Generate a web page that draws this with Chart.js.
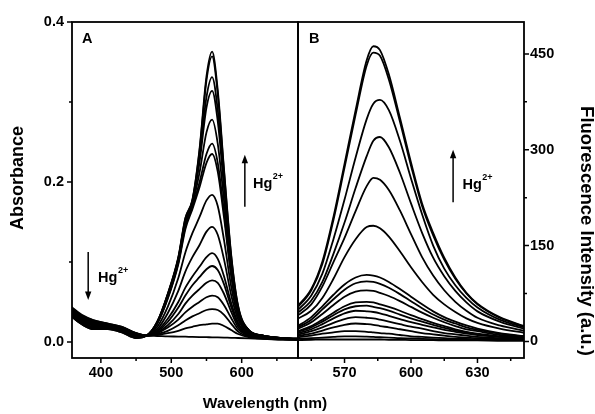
<!DOCTYPE html>
<html>
<head>
<meta charset="utf-8">
<script src="https://cdn.jsdelivr.net/npm/chart.js"></script>
<style>
  html, body { margin: 0; padding: 0; background: #fff; }
  #wrap { position: relative; width: 595px; height: 414px; }
  #wrap canvas { position: absolute; left: 0; top: 0; }
</style>
</head>
<body>
<div id="wrap">
  <canvas id="absChart" width="595" height="414"></canvas>
  <canvas id="fluoChart" width="595" height="414"></canvas>
</div>
<script>
// ==================== DATA ====================
// Panel A - UV-vis absorbance, one array per Hg2+ addition
const absWavelengths = [358, 375, 390, 410, 430, 450, 465, 480, 495, 510, 520, 530, 540, 550, 558, 566, 575, 585, 595, 610, 630, 655, 682];

const abs0  = [0.032, 0.021, 0.016, 0.016, 0.012, 0.005, 0.008, 0.025, 0.060, 0.106, 0.155, 0.178, 0.240, 0.332, 0.363, 0.315, 0.215, 0.110, 0.045, 0.015, 0.008, 0.005, 0.004];
const abs1  = [0.032, 0.021, 0.016, 0.016, 0.012, 0.005, 0.008, 0.025, 0.060, 0.105, 0.154, 0.177, 0.238, 0.327, 0.357, 0.310, 0.212, 0.108, 0.044, 0.015, 0.008, 0.005, 0.004];
const abs2  = [0.033, 0.022, 0.017, 0.017, 0.013, 0.006, 0.008, 0.025, 0.059, 0.104, 0.152, 0.176, 0.230, 0.306, 0.331, 0.290, 0.200, 0.103, 0.042, 0.015, 0.008, 0.005, 0.004];
const abs3  = [0.033, 0.022, 0.017, 0.017, 0.013, 0.006, 0.008, 0.024, 0.058, 0.103, 0.150, 0.175, 0.224, 0.293, 0.314, 0.276, 0.192, 0.099, 0.041, 0.015, 0.008, 0.005, 0.004];
const abs4  = [0.034, 0.023, 0.018, 0.018, 0.014, 0.006, 0.008, 0.024, 0.057, 0.101, 0.147, 0.172, 0.211, 0.262, 0.278, 0.248, 0.176, 0.092, 0.039, 0.014, 0.008, 0.005, 0.004];
const abs5  = [0.035, 0.024, 0.018, 0.018, 0.014, 0.007, 0.008, 0.023, 0.055, 0.099, 0.144, 0.169, 0.199, 0.235, 0.248, 0.224, 0.162, 0.086, 0.037, 0.014, 0.008, 0.005, 0.003];
const abs6  = [0.035, 0.024, 0.019, 0.019, 0.015, 0.007, 0.008, 0.023, 0.054, 0.097, 0.141, 0.166, 0.193, 0.224, 0.235, 0.213, 0.155, 0.083, 0.036, 0.013, 0.008, 0.005, 0.003];
const abs7  = [0.036, 0.025, 0.020, 0.019, 0.015, 0.008, 0.008, 0.019, 0.044, 0.080, 0.112, 0.136, 0.156, 0.177, 0.184, 0.170, 0.127, 0.070, 0.032, 0.012, 0.007, 0.004, 0.003];
const abs8  = [0.037, 0.026, 0.021, 0.020, 0.016, 0.008, 0.008, 0.016, 0.036, 0.064, 0.088, 0.106, 0.121, 0.138, 0.144, 0.134, 0.103, 0.059, 0.028, 0.011, 0.007, 0.004, 0.003];
const abs9  = [0.038, 0.027, 0.022, 0.020, 0.016, 0.009, 0.008, 0.014, 0.029, 0.050, 0.068, 0.082, 0.094, 0.106, 0.111, 0.104, 0.082, 0.049, 0.024, 0.010, 0.006, 0.004, 0.003];
const abs10 = [0.039, 0.028, 0.023, 0.021, 0.017, 0.009, 0.008, 0.013, 0.025, 0.043, 0.058, 0.071, 0.081, 0.091, 0.095, 0.090, 0.072, 0.044, 0.022, 0.009, 0.006, 0.004, 0.003];
const abs11 = [0.040, 0.029, 0.024, 0.021, 0.017, 0.010, 0.008, 0.012, 0.021, 0.035, 0.048, 0.058, 0.066, 0.074, 0.077, 0.074, 0.060, 0.038, 0.019, 0.009, 0.006, 0.004, 0.003];
const abs12 = [0.041, 0.030, 0.025, 0.022, 0.018, 0.010, 0.008, 0.011, 0.018, 0.028, 0.037, 0.044, 0.050, 0.056, 0.058, 0.056, 0.046, 0.030, 0.016, 0.008, 0.005, 0.004, 0.003];
const abs13 = [0.042, 0.031, 0.026, 0.022, 0.018, 0.011, 0.008, 0.010, 0.014, 0.021, 0.027, 0.032, 0.036, 0.040, 0.041, 0.040, 0.034, 0.023, 0.013, 0.007, 0.005, 0.003, 0.003];
const abs14 = [0.043, 0.032, 0.027, 0.023, 0.019, 0.011, 0.008, 0.009, 0.011, 0.014, 0.017, 0.019, 0.021, 0.022, 0.023, 0.023, 0.020, 0.015, 0.010, 0.006, 0.004, 0.003, 0.003];
const abs15 = [0.044, 0.033, 0.027, 0.023, 0.019, 0.011, 0.008, 0.0075, 0.007, 0.0068, 0.0066, 0.0064, 0.0062, 0.006, 0.0058, 0.0057, 0.0055, 0.0052, 0.005, 0.0046, 0.004, 0.0035, 0.003];

const absCurves = [abs0, abs1, abs2, abs3, abs4, abs5, abs6, abs7, abs8, abs9, abs10, abs11, abs12, abs13, abs14, abs15];

// Panel B - fluorescence emission
const fluoWavelengths = [548, 555, 560, 565, 570, 575, 580, 583, 586, 590, 595, 600, 605, 610, 615, 620, 625, 630, 640, 652];

const fl0  = [52, 82, 125, 195, 278, 362, 440, 462, 456, 418, 350, 280, 216, 170, 131, 100, 76, 59, 38, 23];
const fl1  = [50, 80, 121, 190, 272, 355, 432, 452, 447, 410, 344, 275, 212, 166, 128, 98, 75, 58, 37, 22];
const fl2  = [46, 72, 106, 160, 222, 288, 348, 372, 378, 362, 314, 255, 199, 150, 114, 88, 68, 53, 34, 21];
const fl3  = [42, 64, 93, 137, 186, 240, 290, 314, 320, 304, 264, 216, 170, 131, 102, 79, 61, 47, 31, 19];
const fl4  = [38, 58, 86, 124, 162, 204, 243, 256, 253, 237, 205, 168, 132, 103, 80, 62, 48, 37, 25, 16];
const fl5  = [34, 48, 68, 98, 132, 160, 179, 181, 177, 164, 141, 116, 93, 73, 58, 46, 36, 29, 20, 13];
const fl6  = [22, 38, 55, 73, 89, 100, 104, 103, 100, 93, 82, 70, 58, 47, 38, 31, 25, 20, 13, 8];
const fl7  = [20, 34, 50, 66, 81, 91, 94, 93, 90, 84, 74, 63, 52, 42, 34, 28, 22, 18, 12, 7];
const fl8  = [18, 30, 43, 57, 70, 78, 80, 79, 76, 71, 63, 54, 45, 37, 30, 24, 19, 16, 10, 6];
const fl9  = [15, 24, 34, 45, 55, 61, 62, 61, 58, 54, 48, 41, 35, 29, 24, 19, 15, 12, 8, 5];
const fl10 = [14, 22, 31, 41, 50, 55, 56, 54, 52, 48, 42, 36, 31, 26, 21, 17, 14, 11, 7, 5];
const fl11 = [12, 19, 27, 36, 44, 48, 47, 46, 44, 40, 35, 30, 26, 22, 18, 15, 12, 10, 7, 4];
const fl12 = [10, 16, 22, 29, 35, 38, 37, 36, 34, 31, 27, 23, 20, 16, 13, 11, 9, 7, 5, 3];
const fl13 = [8, 12, 17, 22, 26, 28, 27, 26, 24, 22, 19, 16, 13, 11, 9, 7, 6, 5, 4, 3];
const fl14 = [6, 9, 12, 14, 16, 16, 15, 14, 13, 12, 10, 8, 7, 6, 5, 4, 4, 3, 3, 2];
const fl15 = [4, 5, 6, 7, 8, 8, 7.5, 7, 6.5, 6, 5, 4.5, 4, 3.5, 3, 3, 2.5, 2.5, 2, 2];
const fl16 = [2, 2.5, 3, 3, 3, 3, 3, 3, 3, 2.5, 2.5, 2, 2, 2, 1.5, 1.5, 1.5, 1.5, 1, 1];

const fluoCurves = [fl0, fl1, fl2, fl3, fl4, fl5, fl6, fl7, fl8, fl9, fl10, fl11, fl12, fl13, fl14, fl15, fl16];

// Tick values
const absXTicks = [400, 500, 600];
const absXMinor = [450, 550, 650];
const absYTicks = [0, 0.2, 0.4];
const absYMinor = [0.1, 0.3];
const fluoXTicks = [570, 600, 630];
const fluoXMinor = [555, 585, 615, 645];
const fluoYTicks = [0, 150, 300, 450];
const fluoYMinor = [75, 225, 375];

// ==================== HELPERS ====================
const FONT = '"Liberation Sans", Arial, Helvetica, sans-serif';
Chart.defaults.font.family = FONT;
Chart.defaults.color = '#000';

function toDatasets(wavelengths, curves) {
    return curves.map(c => ({
        data: wavelengths.map((w, i) => ({ x: w, y: c[i] })),
        borderColor: '#000',
        borderWidth: 1.8,
        pointRadius: 0,
        fill: false,
        cubicInterpolationMode: 'monotone'
    }));
}

function drawTickSet(ctx, scale, values, len, side) {
    const area = scale.chart.chartArea;
    ctx.beginPath();
    values.forEach(v => {
        const p = scale.getPixelForValue(v);
        if (side === 'bottom') { ctx.moveTo(p, area.bottom); ctx.lineTo(p, area.bottom + len); }
        if (side === 'left')   { ctx.moveTo(area.left, p); ctx.lineTo(area.left - len, p); }
        if (side === 'right')  { ctx.moveTo(area.right, p); ctx.lineTo(area.right + len, p); }
    });
    ctx.stroke();
}

function drawArrow(ctx, x, yFrom, yTip) {
    const dir = yTip < yFrom ? -1 : 1;
    ctx.beginPath();
    ctx.moveTo(x, yFrom);
    ctx.lineTo(x, yTip - dir * 7);
    ctx.lineWidth = 1.5;
    ctx.stroke();
    ctx.beginPath();
    ctx.moveTo(x, yTip);
    ctx.lineTo(x - 3.2, yTip - dir * 8.5);
    ctx.lineTo(x + 3.2, yTip - dir * 8.5);
    ctx.closePath();
    ctx.fill();
}

function drawHg(ctx, x, y) {
    ctx.textAlign = 'left';
    ctx.textBaseline = 'alphabetic';
    ctx.font = 'bold 14.5px ' + FONT;
    ctx.fillText('Hg', x, y);
    const w = ctx.measureText('Hg').width;
    ctx.font = 'bold 9px ' + FONT;
    ctx.fillText('2+', x + w + 0.5, y - 9);
}

function frameAxes(ctx, chart) {
    const a = chart.chartArea;
    ctx.save();
    ctx.strokeStyle = '#000';
    ctx.fillStyle = '#000';
    ctx.lineWidth = 1.8;
    ctx.strokeRect(a.left, a.top, a.right - a.left, a.bottom - a.top);
    ctx.lineWidth = 1.5;
    return a;
}

// ==================== PANEL A ====================
const absDecor = {
    id: 'absDecor',
    afterDraw(chart) {
        const ctx = chart.ctx;
        const x = chart.scales.x, y = chart.scales.y;
        const a = frameAxes(ctx, chart);
        drawTickSet(ctx, x, absXTicks, 5, 'bottom');
        drawTickSet(ctx, x, absXMinor, 3, 'bottom');
        drawTickSet(ctx, y, absYTicks, 5, 'left');
        drawTickSet(ctx, y, absYMinor, 3, 'left');

        ctx.font = 'bold 14.5px ' + FONT;
        ctx.textAlign = 'left';
        ctx.textBaseline = 'alphabetic';
        ctx.fillText('A', a.left + 10, a.top + 21);

        drawArrow(ctx, x.getPixelForValue(382), y.getPixelForValue(0.1125), y.getPixelForValue(0.0525));
        drawHg(ctx, x.getPixelForValue(396), y.getPixelForValue(0.0755));
        drawArrow(ctx, x.getPixelForValue(604.5), y.getPixelForValue(0.169), y.getPixelForValue(0.234));
        drawHg(ctx, x.getPixelForValue(616), y.getPixelForValue(0.193));

        // axis titles
        ctx.save();
        ctx.translate(18, 178);
        ctx.rotate(-Math.PI / 2);
        ctx.textAlign = 'center';
        ctx.textBaseline = 'middle';
        ctx.font = 'bold 18px ' + FONT;
        ctx.fillText('Absorbance', 0, 0);
        ctx.restore();

        ctx.textAlign = 'center';
        ctx.textBaseline = 'alphabetic';
        ctx.font = 'bold 15.5px ' + FONT;
        ctx.fillText('Wavelength (nm)', 265, 408);
        ctx.restore();
    }
};

const tickFont = { size: 14.5, weight: 'bold', family: FONT, lineHeight: 1.2 };

new Chart(document.getElementById('absChart'), {
    type: 'line',
    data: { datasets: toDatasets(absWavelengths, absCurves) },
    options: {
        responsive: false,
        animation: false,
        layout: { padding: { left: 0, top: 22, right: 297, bottom: 0 } },
        plugins: { legend: { display: false }, tooltip: { enabled: false } },
        scales: {
            x: {
                type: 'linear', min: 359, max: 680,
                grid: { display: false, drawTicks: false }, border: { display: false },
                afterBuildTicks: s => { s.ticks = absXTicks.map(v => ({ value: v })); },
                afterFit: s => { s.height = 56; },
                ticks: { font: tickFont, padding: 6, maxRotation: 0, autoSkip: false }
            },
            y: {
                min: -0.02, max: 0.4,
                grid: { display: false, drawTicks: false }, border: { display: false },
                afterBuildTicks: s => { s.ticks = absYTicks.map(v => ({ value: v })); },
                afterFit: s => { s.width = 72; },
                ticks: { font: tickFont, padding: 8, callback: v => v.toFixed(1) }
            }
        }
    },
    plugins: [absDecor]
});

// ==================== PANEL B ====================
const fluoDecor = {
    id: 'fluoDecor',
    afterDraw(chart) {
        const ctx = chart.ctx;
        const x = chart.scales.x, y = chart.scales.y;
        const a = frameAxes(ctx, chart);
        drawTickSet(ctx, x, fluoXTicks, 5, 'bottom');
        drawTickSet(ctx, x, fluoXMinor, 3, 'bottom');
        drawTickSet(ctx, y, fluoYTicks, 5, 'right');
        drawTickSet(ctx, y, fluoYMinor, 3, 'right');

        ctx.font = 'bold 14.5px ' + FONT;
        ctx.textAlign = 'left';
        ctx.textBaseline = 'alphabetic';
        ctx.fillText('B', a.left + 11, a.top + 21);

        drawArrow(ctx, x.getPixelForValue(619), y.getPixelForValue(218), y.getPixelForValue(300));
        drawHg(ctx, x.getPixelForValue(623.2), y.getPixelForValue(238));

        ctx.save();
        ctx.translate(586, 231);
        ctx.rotate(Math.PI / 2);
        ctx.textAlign = 'center';
        ctx.textBaseline = 'middle';
        ctx.font = 'bold 18.5px ' + FONT;
        ctx.fillText('Fluorescence Intensity (a.u.)', 0, 0);
        ctx.restore();
        ctx.restore();
    }
};

new Chart(document.getElementById('fluoChart'), {
    type: 'line',
    data: { datasets: toDatasets(fluoWavelengths, fluoCurves) },
    options: {
        responsive: false,
        animation: false,
        layout: { padding: { left: 298, top: 22, right: 0, bottom: 0 } },
        plugins: { legend: { display: false }, tooltip: { enabled: false } },
        scales: {
            x: {
                type: 'linear', min: 549, max: 651,
                grid: { display: false, drawTicks: false }, border: { display: false },
                afterBuildTicks: s => { s.ticks = fluoXTicks.map(v => ({ value: v })); },
                afterFit: s => { s.height = 56; },
                ticks: { font: tickFont, padding: 6, maxRotation: 0, autoSkip: false }
            },
            y: {
                position: 'right',
                min: -26, max: 500,
                grid: { display: false, drawTicks: false }, border: { display: false },
                afterBuildTicks: s => { s.ticks = fluoYTicks.map(v => ({ value: v })); },
                afterFit: s => { s.width = 71; },
                ticks: { font: tickFont, padding: 6 }
            }
        }
    },
    plugins: [fluoDecor]
});
</script>
</body>
</html>
